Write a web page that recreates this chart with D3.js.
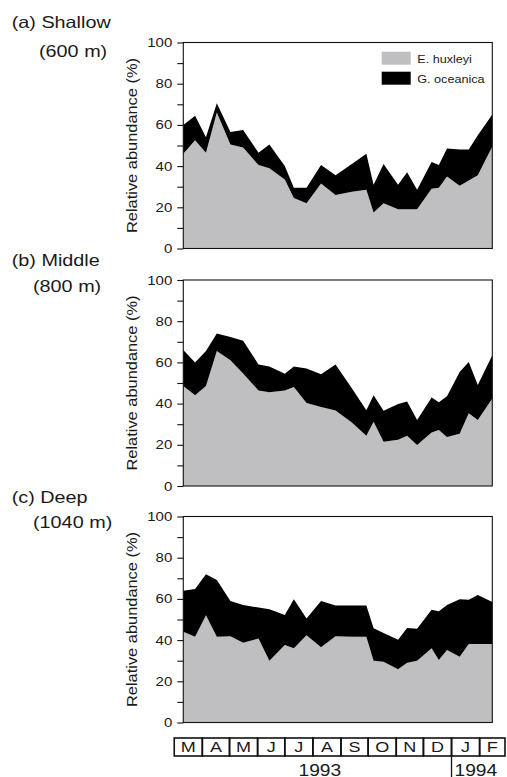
<!DOCTYPE html>
<html><head><meta charset="utf-8">
<script src="https://cdn.jsdelivr.net/npm/d3@7"></script>
<style>
body{margin:0;background:#fff}
svg{display:block}
text{font-family:"Liberation Sans",Arial,Helvetica,sans-serif;fill:#1a1a1a}
</style>
</head><body>
<svg id="chart" width="507" height="777"></svg>
<script>
// ---- data ----
const sampleDates = ["1993-03-11","1993-03-24","1993-04-05","1993-04-17","1993-05-02","1993-05-16",
  "1993-06-02","1993-06-14","1993-07-01","1993-07-11","1993-07-25","1993-08-10","1993-08-26",
  "1993-09-13","1993-09-29","1993-10-07","1993-10-18","1993-11-03","1993-11-13","1993-11-24",
  "1993-12-10","1993-12-18","1993-12-27","1994-01-10","1994-01-20","1994-01-30","1994-02-15"];

const ehuxShallow = [46,52.5,46.5,66,50.5,49,40.5,39,33.5,24.5,22,31.5,26,27.5,28.5,17.5,22,19,19,19,29,29.5,35,30.5,33,35.5,49.5];
const goceShallow = [14,12,7.5,4.5,6,8.5,6,11.5,6.5,5,7.5,9,9.5,13.5,17.5,13.5,19,12,18,9.5,13,11,13.5,17.5,15,19.5,15.5];

const ehuxMiddle = [48.5,44,48.5,65.5,61,54.6,46.3,45.5,46.3,48,40.3,38.3,36.6,30.8,24.4,31.2,21.5,22.4,24.4,19.9,26,27.2,23.8,25.4,35.3,32,42.5];
const goceMiddle = [17.5,16,17,8.5,11.3,15.9,12.7,12.5,8.2,10,16.7,16,22.4,16.7,12.4,12.8,15,17.4,16.6,12.1,17,13.4,19.8,29.9,24.9,17,21];

const ehuxDeep = [44,41.6,52.1,41.6,41.9,38.7,40.8,30,37.6,36,42.4,36.5,41.9,41.6,41.6,30,29.5,25.8,29,30,36,30.3,35.2,31.9,38.1,38.1,38.1];
const goceDeep = [20,23.2,19.9,27.6,17.1,18.3,15,25,14.6,23.8,8.1,22.5,14.9,15.2,15.2,15.8,14,14.4,16.9,15.5,18.7,23.7,21.8,27.9,21.5,23.8,20.4];

const panelTitles = ["(a) Shallow","(b) Middle","(c) Deep"];
const panelDepths = ["(600 m)","(800 m)","(1040 m)"];
const seriesNames = ["E. huxleyi","G. oceanica"];
const yTicks = [0,10,20,30,40,50,60,70,80,90,100];
const monthLetters = ["M","A","M","J","J","A","S","O","N","D","J","F"];
const yearLabels = ["1993","1994"];

// ---- layout ----
const svg = d3.select("#chart");
const X0 = 183.3, X1 = 492.3, PH = 206;
const panelTops = [42.5, 280, 516.5];
const titlePos = [[11.7,28,39,57],[11.7,266,33,292],[11.7,503,33,528]];
const colors = {ehux:"#bfbfc1", goce:"#000000"};
const SX = 1.2; // horizontal stretch of the original figure's text

const parse = d3.utcParse("%Y-%m-%d");
const dates = sampleDates.map(parse);
const x = d3.scaleUtc().domain([dates[0], dates[dates.length-1]]).range([X0, X1]);

function stretch(sel, k){
  sel.each(function(){
    const len = this.getComputedTextLength();
    d3.select(this).attr("textLength", len*k).attr("lengthAdjust","spacingAndGlyphs");
  });
}

const panelData = [[ehuxShallow,goceShallow],[ehuxMiddle,goceMiddle],[ehuxDeep,goceDeep]];

panelData.forEach(([eh, go], i) => {
  const top = panelTops[i];
  const y = d3.scaleLinear().domain([0,100]).range([top+PH, top]);
  const rows = dates.map((d,j)=>({date:d, ehux:eh[j], goce:go[j]}));
  const stacked = d3.stack().keys(["ehux","goce"])(rows);
  const area = d3.area().x(d=>x(d.data.date)).y0(d=>y(d[0])).y1(d=>y(d[1])).curve(d3.curveLinear);
  const g = svg.append("g");
  g.selectAll("path.layer").data(stacked).join("path")
    .attr("class","layer").attr("d",area).attr("fill",d=>colors[d.key]).attr("stroke","none");

  // frame
  g.append("rect").attr("x",X0).attr("y",top).attr("width",X1-X0).attr("height",PH)
    .attr("fill","none").attr("stroke","#111").attr("stroke-width",1.1);

  // y axis
  const ax = g.append("g").attr("transform",`translate(${X0},0)`)
    .call(d3.axisLeft(y).tickValues(yTicks).tickSize(6).tickPadding(5)
      .tickFormat(d => d % 20 === 0 ? d : ""));
  ax.select(".domain").remove();
  ax.selectAll(".tick line").attr("stroke","#111").attr("stroke-width",1.1);
  ax.selectAll(".tick text").attr("font-size",12.5).attr("fill","#1a1a1a")
    .style("font-family",'"Liberation Sans",Arial,sans-serif');
  stretch(ax.selectAll(".tick text").filter(function(){return this.textContent!=="";}), SX);

  // y label
  g.append("text").attr("transform",`translate(131.5,${top+PH/2}) rotate(-90)`)
    .attr("text-anchor","middle").attr("dominant-baseline","central")
    .attr("font-size",14.5).attr("textLength",175).attr("lengthAdjust","spacingAndGlyphs")
    .text("Relative abundance (%)");

  // titles
  const tp = titlePos[i];
  const t1 = svg.append("text").attr("x",tp[0]).attr("y",tp[1]).attr("font-size",16.5).text(panelTitles[i]);
  const t2 = svg.append("text").attr("x",tp[2]).attr("y",tp[3]).attr("font-size",16.5).text(panelDepths[i]);
  stretch(t1, SX); stretch(t2, SX);
});

// legend (panel a)
const legend = svg.append("g");
seriesNames.forEach((name,k)=>{
  const ly = 51.7 + k*20;
  legend.append("rect").attr("x",381.7).attr("y",ly).attr("width",29).attr("height",13)
    .attr("fill", k===0 ? colors.ehux : colors.goce);
  const t = legend.append("text").attr("x",417.3).attr("y",ly+11.5).attr("font-size",10.5).text(name);
  stretch(t, SX);
});

// month boxes
const months = d3.utcMonths(parse("1993-03-01"), parse("1994-03-02"));
const boxTop = 738, boxH = 18;
const mg = svg.append("g");
months.slice(0,12).forEach((m,k)=>{
  const xa = x(m), xb = x(months[k+1]);
  mg.append("rect").attr("x",xa).attr("y",boxTop).attr("width",xb-xa).attr("height",boxH)
    .attr("fill","none").attr("stroke","#111").attr("stroke-width",1.6);
  const t = mg.append("text").attr("x",(xa+xb)/2).attr("y",boxTop+14.2).attr("text-anchor","middle")
    .attr("font-size",15).text(monthLetters[k]);
  stretch(t, SX);
});
// year separator and labels
const jan94 = x(parse("1994-01-01"));
mg.append("line").attr("x1",jan94).attr("x2",jan94).attr("y1",boxTop+boxH).attr("y2",777)
  .attr("stroke","#111").attr("stroke-width",1.3);
const y1 = mg.append("text").attr("x",(x(parse("1993-03-01"))+jan94)/2+7).attr("y",775.5)
  .attr("text-anchor","middle").attr("font-size",16).text(yearLabels[0]);
const y2 = mg.append("text").attr("x",jan94+3).attr("y",775.5).attr("font-size",16).text(yearLabels[1]);
stretch(y1, SX); stretch(y2, SX);
</script>
</body></html>
